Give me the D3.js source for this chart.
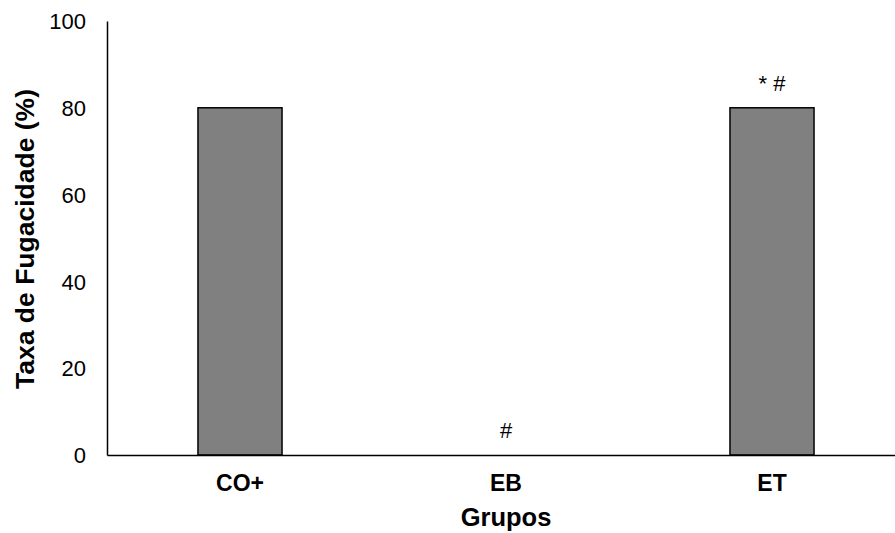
<!DOCTYPE html>
<html>
<head>
<meta charset="utf-8">
<script src="https://cdn.jsdelivr.net/npm/d3@7"></script>
<style>
  body { margin: 0; background: #fff; }
  text { font-family: "Liberation Sans", Arial, sans-serif; fill: #000; }
</style>
</head>
<body>
<div id="chart"></div>
<script>
var groups = ["CO+", "EB", "ET"];
var rates = [80, 0, 80];
var marks = ["", "#", "* #"];
var yTicks = [0, 20, 40, 60, 80, 100];

var width = 895,
    height = 533;

var x = d3.scaleBand()
    .domain(groups)
    .range([107, 905]);

var y = d3.scaleLinear()
    .domain([0, 100])
    .range([455, 21]);

var barWidth = x.bandwidth() * 0.316;

var svg = d3.select("#chart").append("svg")
    .attr("width", width)
    .attr("height", height);

// bars
svg.selectAll("rect.bar")
    .data(rates)
    .enter().append("rect")
    .attr("class", "bar")
    .attr("x", function (d, i) { return x(groups[i]) + x.bandwidth() / 2 - barWidth / 2; })
    .attr("y", function (d) { return y(d); })
    .attr("width", barWidth)
    .attr("height", function (d) { return y(0) - y(d); })
    .attr("fill", d3.rgb(128, 128, 128))
    .attr("stroke", "#000")
    .attr("stroke-width", 1.5)
    .style("display", function (d) { return d > 0 ? null : "none"; });

// y axis
var yAxis = svg.append("g")
    .attr("transform", "translate(107,0)")
    .call(d3.axisLeft(y).tickValues(yTicks).tickSize(0).tickPadding(21));
yAxis.select(".domain").attr("stroke", "#000").attr("stroke-width", 1.5);
yAxis.selectAll("text").attr("font-size", "22px").attr("dy", "0.35em");

// x axis
var xAxis = svg.append("g")
    .attr("transform", "translate(0,455)")
    .call(d3.axisBottom(x).tickSize(0).tickPadding(20));
xAxis.select(".domain").attr("stroke", "#000").attr("stroke-width", 1.5);
xAxis.selectAll("text").attr("font-size", "23px").attr("font-weight", "bold");

// significance marks
svg.selectAll("text.mark")
    .data(marks)
    .enter().append("text")
    .attr("class", "mark")
    .attr("x", function (d, i) { return x(groups[i]) + x.bandwidth() / 2; })
    .attr("y", function (d, i) { return y(rates[i]) - 17; })
    .attr("text-anchor", "middle")
    .attr("font-size", "22px")
    .text(function (d) { return d; });

// axis titles
svg.append("text")
    .attr("x", 506)
    .attr("y", 526)
    .attr("text-anchor", "middle")
    .attr("font-size", "25.5px")
    .attr("font-weight", "bold")
    .text("Grupos");

svg.append("text")
    .attr("transform", "translate(34,239) rotate(-90)")
    .attr("text-anchor", "middle")
    .attr("font-size", "26.5px")
    .attr("font-weight", "bold")
    .text("Taxa de Fugacidade (%)");
</script>
</body>
</html>
